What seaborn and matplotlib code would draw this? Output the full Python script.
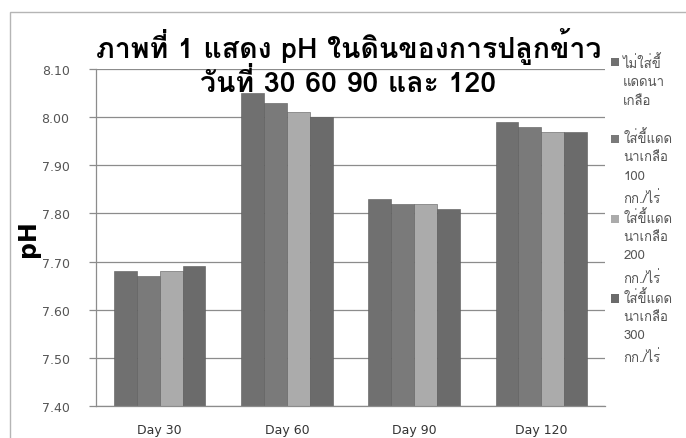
import numpy as np
import pandas as pd
import matplotlib
matplotlib.use("Agg")
import matplotlib.pyplot as plt
import seaborn as sns
from matplotlib import font_manager as fm
from matplotlib.patches import Rectangle
from matplotlib.legend_handler import HandlerBase
import matplotlib.patheffects as pe

# ---- data ----
days = ["Day 30", "Day 60", "Day 90", "Day 120"]
series_names = [
    "ไม่ใส่ขี้\nแดดนา\nเกลือ\n",
    "ใส่ขี้แดด\nนาเกลือ\n100\nกก./ไร่",
    "ใส่ขี้แดด\nนาเกลือ\n200\nกก./ไร่",
    "ใส่ขี้แดด\nนาเกลือ\n300\nกก./ไร่",
]
s0 = [7.68, 8.05, 7.83, 7.99]
s100 = [7.67, 8.03, 7.82, 7.98]
s200 = [7.68, 8.01, 7.82, 7.97]
s300 = [7.69, 8.00, 7.81, 7.97]
y_ticks = [7.40, 7.50, 7.60, 7.70, 7.80, 7.90, 8.00, 8.10]
title = "ภาพที่ 1 แสดง pH ในดินของการปลูกข้าว\nวันที่ 30 60 90 และ 120"
ylabel = "pH"
colors = ["#707070", "#7a7a7a", "#ababab", "#6b6b6b"]

# ---- find a font with Thai glyphs (prefer one with a bold face) ----
thai_family = None
thai_has_bold = False
try:
    from fontTools.ttLib import TTFont

    def has_thai(path):
        try:
            kw = {"fontNumber": 0} if path.lower().endswith((".ttc", ".otc")) else {}
            tt = TTFont(path, lazy=True, **kw)
            cm = tt.getBestCmap()
            return cm is not None and 0x0E01 in cm and 0x0E49 in cm
        except Exception:
            return False

    fams = {}
    for f in fm.fontManager.ttflist:
        if has_thai(f.fname):
            w = f.weight if isinstance(f.weight, int) else (700 if "bold" in str(f.weight).lower() else 400)
            fams.setdefault(f.name, set()).add(w)
    if fams:
        bold_fams = [n for n, ws in fams.items() if max(ws) >= 600]
        pref = ["Noto Sans Thai", "Noto Sans Thai UI", "Tahoma", "Loma", "Garuda", "Sarabun"]
        pool = bold_fams if bold_fams else list(fams)
        best = [p for p in pref if p in pool]
        thai_family = best[0] if best else sorted(pool)[0]
        thai_has_bold = thai_family in bold_fams
except Exception:
    thai_family = None

sns.set_theme(style="white")
font_list = ([thai_family] if thai_family else []) + ["DejaVu Sans"]
plt.rcParams["font.family"] = font_list

df = pd.DataFrame({
    "day": days * 4,
    "series": sum([[n] * 4 for n in series_names], []),
    "ph": s0 + s100 + s200 + s300,
})

fig = plt.figure(figsize=(6.86, 4.39), dpi=100)
ax = fig.add_axes([96 / 686, 1 - 407 / 439, (605 - 96) / 686, (407 - 70) / 439])

sns.barplot(data=df, x="day", y="ph", hue="series", palette=colors,
            width=0.72, gap=0, ax=ax, errorbar=None, saturation=1,
            edgecolor="#5a5a5a", linewidth=0.4)

ax.set_ylim(7.40, 8.10)
ax.set_yticks(y_ticks)
ax.set_yticklabels([f"{v:.2f}" for v in y_ticks], family=["DejaVu Sans"])
ax.set_xticks(range(len(days)))
ax.set_xticklabels(days, family=["DejaVu Sans"])
ax.yaxis.grid(True, color="#8c8c8c", linewidth=0.9)
ax.set_axisbelow(True)
ax.set_xlabel("")
ax.set_ylabel(ylabel, fontsize=17, fontweight="bold", color="black", labelpad=1,
              family=["DejaVu Sans"])
for s in ["top", "right"]:
    ax.spines[s].set_visible(False)
for s in ["left", "bottom"]:
    ax.spines[s].set_color("#8c8c8c")
    ax.spines[s].set_linewidth(0.9)
ax.tick_params(axis="y", colors="#8c8c8c", labelcolor="#555555", labelsize=9,
               left=True, length=5, width=0.9, pad=14)
ax.tick_params(axis="x", labelcolor="#333333", labelsize=9, bottom=False, length=0, pad=12)

ttl = fig.text(0.508, 1 - 62.5 / 439, title, ha="center", va="center", fontsize=20.5,
               fontweight="bold", color="black", linespacing=1.1)
if not thai_has_bold:
    ttl.set_path_effects([pe.withStroke(linewidth=1.2, foreground="black")])


class TopAlignedHandler(HandlerBase):
    def __init__(self, dy):
        super().__init__()
        self.dy = dy

    def create_artists(self, legend, orig_handle, xdescent, ydescent, width, height,
                       fontsize, trans):
        r = Rectangle((-xdescent, -ydescent + self.dy), width, height,
                      facecolor=orig_handle.get_facecolor(), edgecolor="none",
                      transform=trans)
        return [r]


handles, labels = ax.get_legend_handles_labels()
ax.get_legend().remove()
hmap = {h: TopAlignedHandler(20) for h in handles}
leg = fig.legend(handles, labels, loc="upper left", bbox_to_anchor=(606 / 686, 1 - 50 / 439),
                 frameon=False, fontsize=9.5, handlelength=0.6, handleheight=0.6,
                 handletextpad=0.3, labelspacing=0.3, borderaxespad=0, handler_map=hmap)
for t in leg.get_texts():
    t.set_color("#555555")
    t.set_linespacing(1.7)

fig.patches.append(Rectangle((10 / 686, -0.05), 1.0, 1 - 13 / 439 + 0.05,
                             transform=fig.transFigure, fill=False,
                             edgecolor="#b5b5b5", linewidth=1.0))

fig.savefig("out.png", dpi=100)
